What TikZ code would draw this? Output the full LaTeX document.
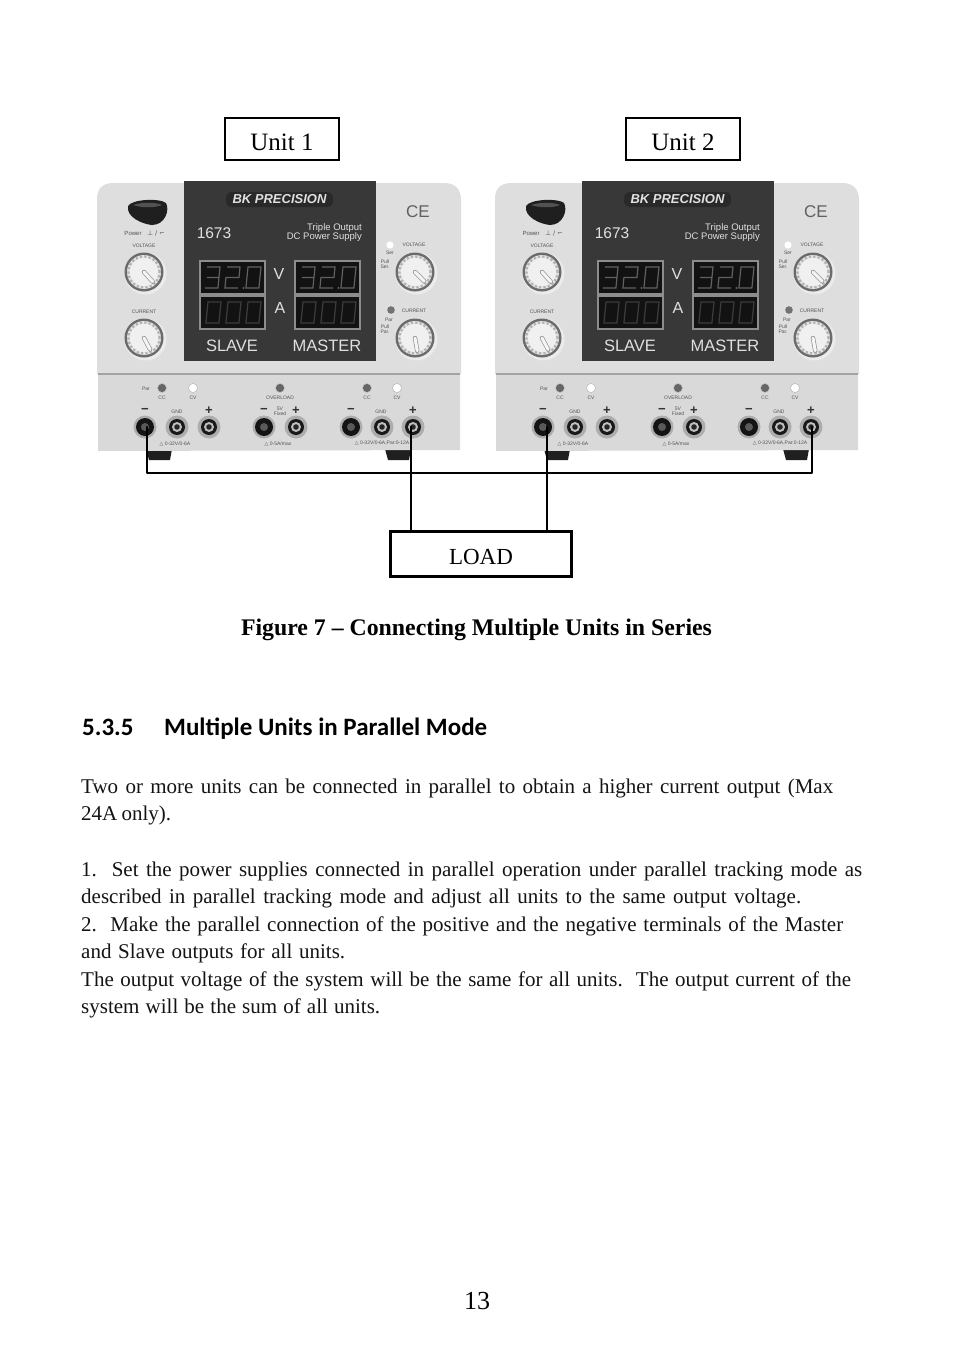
\documentclass[tikz,border=0pt]{standalone}
\usepackage{fontspec}
\setmainfont{Liberation Serif}
\newfontfamily\headfont{Carlito}
\newfontfamily\panelfont{Liberation Sans}
\newfontfamily\symfont{DejaVu Sans}
\tikzset{
  labelbox/.style={draw=black,fill=white,inner sep=0pt,minimum width=114pt,minimum height=42pt,line width=1.3pt,text=black,font=\fontsize{25}{28}\selectfont},
  wire/.style={draw=black,line width=2.8pt,line cap=round,line join=round},
  tiny/.style={font=\panelfont\fontsize{5}{5.5}\selectfont,text=black!68,inner sep=0pt},
  panel/.style={font=\panelfont\fontsize{#1}{#1}\selectfont,text=white!88!black,inner sep=0pt},
  seg/.style={draw=#1,line width=1.2pt,line join=miter},
  body/.style={anchor=base west,inner sep=0pt,font=\fontsize{21}{24}\selectfont,text=black!92},
}
\newcommand\dthree[3]{\draw[seg=#3,shift={(#1,#2)},xslant=0.1] (0,0)--(13,0)--(13,21)--(0,21) (1,10.5)--(13,10.5);}
\newcommand\dtwo[3]{\draw[seg=#3,shift={(#1,#2)},xslant=0.1] (0,0)--(13,0)--(13,10.5)--(0,10.5)--(0,21)--(13,21);}
\newcommand\dzero[3]{\draw[seg=#3,shift={(#1,#2)},xslant=0.1] (0,0) rectangle (13,21);}
\newcommand\knob[3]{% x y angle
  \fill[black!8] (#1+1.5,#2+1.5) circle (21pt);
  \fill[black!58] (#1,#2) circle (19.5pt);
  \fill[black!10] (#1,#2) circle (17pt);
  \draw[black!30,line width=2.4pt,dash pattern=on 2.2pt off 2.2pt] (#1,#2) circle (15.6pt);
  \fill[black!6] (#1,#2) circle (14pt);
  \draw[black!42,line width=4.4pt,line cap=round] (#1,#2) -- ++(#3:13pt);
  \draw[black!4,line width=3pt,line cap=round] (#1,#2) -- ++(#3:13pt);
}
\newcommand\term[3]{% x y kind: 0 dark, 1 ringed
  \fill[black!32] (#1,#2) circle (11.5pt);
  \ifnum#3=0
    \fill[black!92] (#1,#2) circle (9pt);
    \fill[black!65] (#1,#2) circle (4pt);
  \else
    \fill[black!90] (#1,#2) circle (8pt);
    \fill[black!25] (#1,#2) circle (5pt);
    \fill[black!85] (#1,#2) circle (2.8pt);
  \fi
}
\newcommand\led[3]{\fill[#3] (#1,#2) circle (4.2pt);\draw[black!28,line width=.4pt] (#1,#2) circle (4.6pt);}
\newcommand\unit[2]{%
\begin{scope}[xshift=#2pt]
  % feet
  \fill[black!88] (146,449) -- (172,449) -- (170,460) -- (149,460) -- cycle;
  \fill[black!88] (385,449) -- (411,449) -- (409,460) -- (388,460) -- cycle;
  % body
  \fill[black!13] (97,374) -- (97,199) .. controls (97,188) and (103,183) .. (114,183) -- (444,183) .. controls (455,183) and (461,189) .. (461,200) -- (461,374) -- cycle;
  \fill[black!15] (98,374) -- (460,374) -- (460,450) -- (98,451) -- cycle;
  \fill[black!36] (98,373) rectangle (460,375);
  % power button
  \fill[black!88] (128,206) .. controls (132,199) and (160,198) .. (166,203) .. controls (170,210) and (165,225) .. (152,225) .. controls (142,224) and (126,217) .. (128,206) -- cycle;
  \fill[black!68] (133,205) .. controls (142,202) and (155,202) .. (162,205) .. controls (155,208) and (142,208) .. (133,205) -- cycle;
  % knobs
  \knob{144}{272}{-48}
  \knob{144}{338}{-62}
  \knob{415}{272}{-45}
  \knob{415}{338}{-80}
  % front panel
  \fill[black!78] (184,181) rectangle (376,361);
  \fill[black!84,rounded corners=6pt] (226,192) rectangle (333,207);
  % displays
  \fill[black!45] (199,260) rectangle (266,330);
  \fill[black!45] (294,260) rectangle (361,330);
  \fill[black!93] (201,262) rectangle (264,293);
  \fill[black!93] (201,297) rectangle (264,328);
  \fill[black!93] (296,262) rectangle (359,293);
  \fill[black!93] (296,297) rectangle (359,328);
  \dthree{207}{267}{black!62}\dtwo{227}{267}{black!62}\dzero{248}{267}{black!62}
  \fill[black!62] (243.5,288) circle (1.2pt);
  \dthree{302}{267}{black!62}\dtwo{322}{267}{black!62}\dzero{343}{267}{black!62}
  \fill[black!62] (338.5,288) circle (1.2pt);
  \dzero{208}{302}{black!76}\dzero{228}{302}{black!76}\dzero{248}{302}{black!76}
  \dzero{303}{302}{black!76}\dzero{323}{302}{black!76}\dzero{343}{302}{black!76}
  % panel text
  \node[panel=13,font=\panelfont\bfseries\itshape\fontsize{13}{13}\selectfont] (#1brand) at (279.5,199) {BK PRECISION};
  \node[panel=15.5] (#1model) at (214,233.5) {1673};
  \node[panel=9.5,anchor=east] (#1triple) at (362,228.5) {Triple Output};
  \node[panel=9.5,anchor=east] (#1dc) at (362,237.5) {DC Power Supply};
  \node[panel=16] (#1v) at (279,274) {V};
  \node[panel=16] (#1a) at (280,308) {A};
  \node[panel=16.5] (#1slave) at (232,346) {SLAVE};
  \node[panel=16.5] (#1master) at (327,346) {MASTER};
  % upper labels
  \node[tiny,font=\panelfont\fontsize{6}{6}\selectfont] (#1pow) at (133,233) {Power};
  \node[tiny,font=\symfont\fontsize{6.5}{6.5}\selectfont] (#1powsym) at (156,233.5) {⊥ / ⌐};
  \node[tiny] (#1lv) at (144,246) {VOLTAGE};
  \node[tiny] (#1lc) at (144,312) {CURRENT};
  \node[tiny] (#1rv) at (414,245) {VOLTAGE};
  \node[tiny] (#1rc) at (414,311) {CURRENT};
  \node[tiny] (#1ser) at (390,253) {Ser};
  \node[tiny,align=center] (#1pser) at (385,264) {Pull\\[-.5pt]Ser.};
  \node[tiny] (#1par) at (389,319.5) {Par};
  \node[tiny,align=center] (#1ppar) at (385,329) {Pull\\[-.5pt]Par.};
  \fill[white] (390,245) circle (3.6pt);
  \fill[black!55] (391,310) circle (3.8pt);
  \node[font=\panelfont\fontsize{17}{17}\selectfont,text=black!62,inner sep=0pt] (#1ce) at (418,212) {CE};
  % LEDs
  \led{162}{388}{black!60}
  \led{193}{388}{white}
  \led{280}{388}{black!60}
  \led{367}{388}{black!60}
  \led{397}{388}{white}
  \node[tiny] (#1lpar) at (146,389) {Par};
  \node[tiny] (#1cc) at (162,398) {CC};
  \node[tiny] (#1cv) at (193,398) {CV};
  \node[tiny] (#1ov) at (280,398) {OVERLOAD};
  \node[tiny] (#1cc2) at (367,398) {CC};
  \node[tiny] (#1cv2) at (397,398) {CV};
  % terminals
  \term{145}{427}{0}\term{177}{427}{1}\term{209}{427}{1}
  \term{264}{427}{0}\term{296}{427}{1}
  \term{351}{427}{0}\term{382}{427}{1}\term{413}{427}{1}
  \foreach \tx/\tn in {145/a,264/b,351/c}
    \node[panel=13,text=black!80,font=\panelfont\bfseries\fontsize{13}{13}\selectfont] (#1m\tn) at (\tx,410.5) {−};
  \foreach \tx/\tn in {209/a,296/b,413/c}
    \node[panel=13,text=black!80,font=\panelfont\bfseries\fontsize{13}{13}\selectfont] (#1p\tn) at (\tx,410.5) {+};
  \node[tiny] (#1g1) at (177,411.5) {GND};
  \node[tiny,align=center] (#1fv) at (280,411) {5V\\[-.5pt]Fixed};
  \node[tiny] (#1g2) at (381,411.5) {GND};
  \node[tiny] (#1r1) at (175,444) {{\symfont △} 0-32V/0-6A};
  \node[tiny] (#1r2) at (278,444) {{\symfont △} 0-5A/max};
  \node[tiny] (#1r3) at (382,443.5) {{\symfont △} 0-32V/0-6A,Par:0-12A};
\end{scope}}
\begin{document}
\begin{tikzpicture}[x=1pt,y=-1pt]
\useasboundingbox (0,0) rectangle (954,1354);
\fill[white] (0,0) rectangle (954,1354);
\unit{ua}{0}
\unit{ub}{398}
\node[labelbox] (u1) at (282,139) {\raisebox{-11pt}[0pt][0pt]{Unit 1}};
\node[labelbox] (u2) at (683,139) {\raisebox{-11pt}[0pt][0pt]{Unit 2}};
\node[labelbox,line width=2.8pt,minimum width=181pt,minimum height=45pt,font=\fontsize{23}{26}\selectfont] (load) at (481,554) {\raisebox{-10pt}[0pt][0pt]{LOAD}};
\coordinate (am) at (147,427);
\coordinate (ap) at (411,427);
\coordinate (bm) at (547,427);
\coordinate (bp) at (812,427);
\coordinate (lb1) at (ap |- load.north);
\coordinate (lb2) at (bm |- load.north);
\draw[wire] (am) |- (bp |- 0,473) -- (bp);
\draw[wire] (ap) -- (lb1);
\draw[wire] (bm) -- (lb2);
\node[anchor=base,inner sep=0pt,font=\bfseries\fontsize{23.8}{26}\selectfont] (cap) at (476.5,635) {Figure 7 – Connecting Multiple Units in Series};
\node[anchor=base west,inner sep=0pt,font=\headfont\bfseries\fontsize{25}{28}\selectfont] (h1) at (82,735) {5.3.5};
\node[anchor=base west,inner sep=0pt,font=\headfont\bfseries\fontsize{25}{28}\selectfont] (h2) at (164,735) {Multiple Units in Parallel Mode};
\node[body] (t1) at (81,793) {\makebox[752pt][s]{Two or more units can be connected in parallel to obtain a higher current output (Max}};
\node[body] (t2) at (81,820) {\makebox[90pt][s]{24A only).}};
\node[body] (t3) at (81,876) {\makebox[781pt][s]{1.\ \ Set the power supplies connected in parallel operation under parallel tracking mode as}};
\node[body] (t4) at (81,903) {\makebox[720pt][s]{described in parallel tracking mode and adjust all units to the same output voltage.}};
\node[body] (t5) at (81,931) {\makebox[762pt][s]{2.\ \ Make the parallel connection of the positive and the negative terminals of the Master}};
\node[body] (t6) at (81,958) {\makebox[264pt][s]{and Slave outputs for all units.}};
\node[body] (t7) at (81,986) {\makebox[770pt][s]{The output voltage of the system will be the same for all units.\ \ The output current of the}};
\node[body] (t8) at (81,1013) {\makebox[299pt][s]{system will be the sum of all units.}};
\node[anchor=base,inner sep=0pt,font=\fontsize{26}{28}\selectfont] (pg) at (477,1309) {13};
\end{tikzpicture}
\end{document}
